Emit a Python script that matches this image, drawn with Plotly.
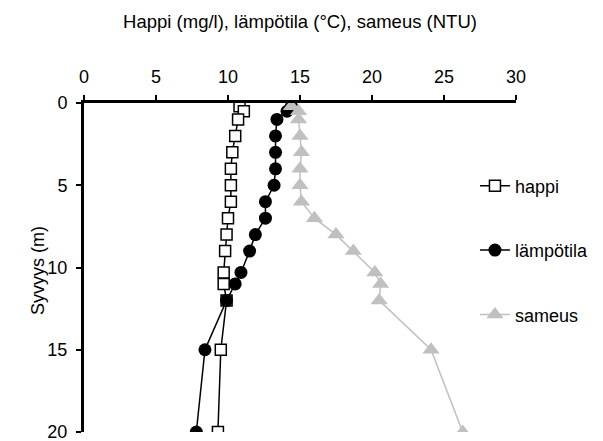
import plotly.graph_objects as go

depth = [0.2, 0.5, 1, 2, 3, 4, 5, 6, 7, 8, 9, 10.3, 11, 12, 15, 20]
happi = [10.8, 11.1, 10.7, 10.5, 10.3, 10.2, 10.2, 10.2, 10.0, 9.9, 9.8, 9.7, 9.7, 9.9, 9.5, 9.3]
lampotila = [14.4, 14.1, 13.4, 13.3, 13.3, 13.3, 13.2, 12.6, 12.6, 11.9, 11.5, 10.9, 10.5, 9.9, 8.4, 7.8]
sameus = [14.4, 14.9, 14.9, 15.0, 15.1, 15.0, 15.0, 15.1, 16.0, 17.5, 18.7, 20.2, 20.6, 20.5, 24.1, 26.3]
x_ticks = [0, 5, 10, 15, 20, 25, 30]
y_ticks = [0, 5, 10, 15, 20]

FONT = "Liberation Sans, Arial, sans-serif"
FS = 18

fig = go.Figure()
fig.add_trace(go.Scatter(
    x=happi, y=depth, mode="lines+markers", name="happi", legendgroup="a",
    line=dict(color="black", width=1.5),
    marker=dict(symbol="square", size=11, color="white", line=dict(color="black", width=1.5)),
))
fig.add_trace(go.Scatter(
    x=lampotila, y=depth, mode="lines+markers", name="lämpötila", legendgroup="b",
    line=dict(color="black", width=1.5),
    marker=dict(symbol="circle", size=13, color="black", line=dict(width=0)),
))
fig.add_trace(go.Scatter(
    x=sameus, y=depth, mode="lines+markers", name="sameus", legendgroup="c",
    line=dict(color="#c0c0c0", width=1.5),
    marker=dict(symbol="triangle-up", size=15, color="#c0c0c0", line=dict(width=0)),
))

fig.update_layout(
    width=603, height=441,
    margin=dict(l=84, r=84, t=103, b=9),
    paper_bgcolor="white", plot_bgcolor="white",
    font=dict(family=FONT, size=FS, color="black"),
    showlegend=True,
    legend=dict(x=0.905, y=0.804, xanchor="left", yanchor="top",
                tracegroupgap=38, font=dict(size=FS), bgcolor="rgba(0,0,0,0)",
                itemwidth=30),
    xaxis=dict(
        side="top", range=[0, 30], tickvals=x_ticks, ticktext=[str(v) for v in x_ticks],
        showline=True, linecolor="black", linewidth=3, mirror=False,
        ticks="outside", ticklen=5, tickwidth=2, tickcolor="black",
        ticklabelstandoff=5, ticklabeloverflow="allow",
        showgrid=False, zeroline=False, automargin=False,
        title=dict(text="Happi (mg/l), lämpötila (°C), sameus (NTU)", standoff=34,
                   font=dict(size=FS + 0.5)),
    ),
    yaxis=dict(
        range=[20, 0], tickvals=y_ticks, ticktext=[str(v) for v in y_ticks],
        showline=True, linecolor="black", linewidth=3,
        ticks="outside", ticklen=5, tickwidth=2, tickcolor="black",
        ticklabelstandoff=5, ticklabeloverflow="allow",
        showgrid=False, zeroline=False, automargin=False,
    ),
    annotations=[dict(
        text="Syvyys (m)", xref="paper", yref="paper", x=-0.106, y=0.49,
        xanchor="center", yanchor="middle", textangle=-90, showarrow=False,
        font=dict(size=FS),
    )],
)

fig.write_html("out.html")
